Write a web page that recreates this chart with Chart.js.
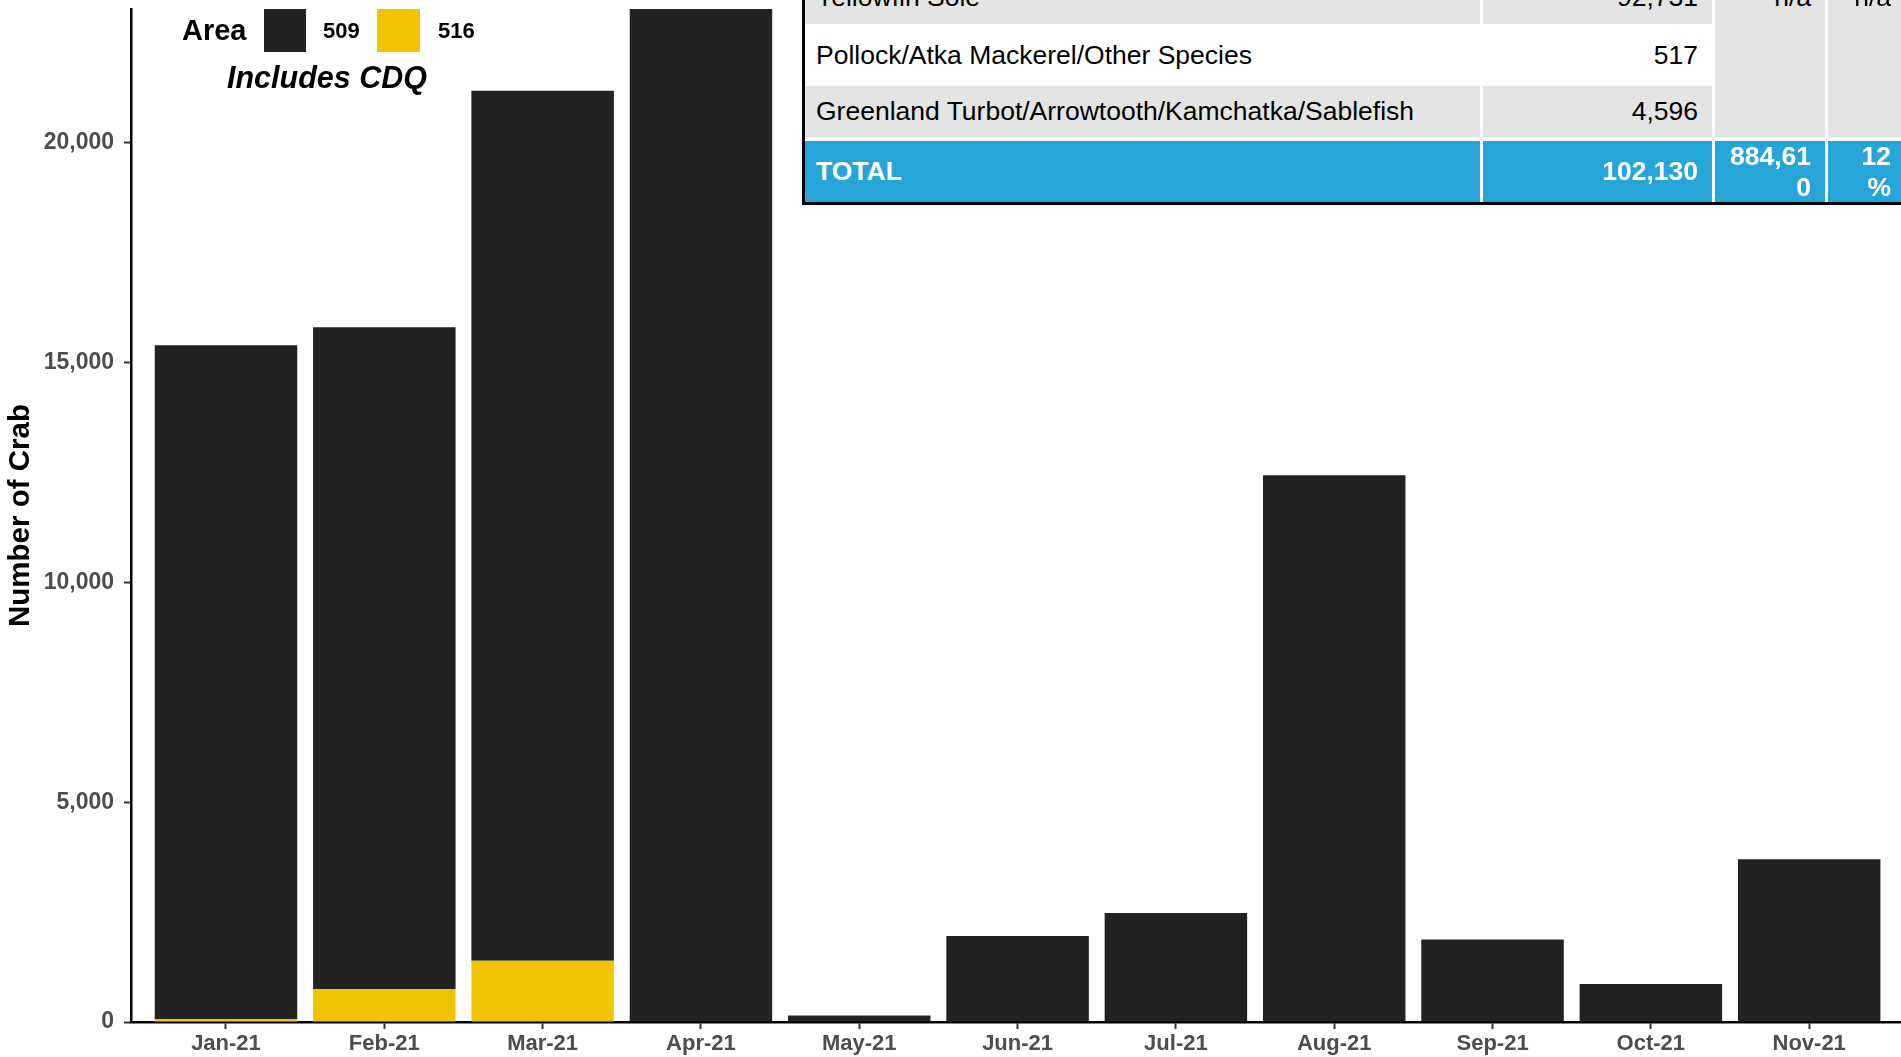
<!DOCTYPE html>
<html>
<head>
<meta charset="utf-8">
<script src="https://cdn.jsdelivr.net/npm/chart.js@4.4.1/dist/chart.umd.min.js"></script>
<style>
  html, body { margin: 0; padding: 0; background: #fff; overflow: hidden; }
  body { width: 1901px; height: 1057px; position: relative; font-family: "Liberation Sans", Arial, sans-serif; }
  #wrap { position: absolute; left: 0; top: 0; width: 1901px; height: 1057px; }
  .ov { position: absolute; display: flex; align-items: center; white-space: nowrap; }
  .cell { position: absolute; display: flex; align-items: center; box-sizing: border-box; font-size: 26.5px; color: #000; white-space: nowrap; }
  .cell.l { justify-content: flex-start; padding-left: 11px; }
  .cell.r { justify-content: flex-end; padding-right: 14px; text-align: right; }
  .gray { background: #e4e4e4; }
  .white { background: #fff; }
  .blue { background: #27a4d8; color: #fff; font-weight: bold; }
  .blue.r { line-height: 31px; }
</style>
</head>
<body>
<div id="wrap"><canvas id="chart"></canvas></div>

<!-- legend -->
<div id="legend"></div>

<!-- summary table (cropped at the top of the picture) -->
<div id="tbl">
  <div class="cell l gray" style="left:805px;top:-30px;width:675px;height:54px">Yellowfin Sole</div>
  <div class="cell r gray" style="left:1483px;top:-30px;width:229px;height:54px">92,731</div>
  <div class="cell gray" style="left:1715px;top:-30px;width:110px;height:167px"></div>
  <div class="cell gray" style="left:1828px;top:-30px;width:77px;height:167px"></div>
  <div class="cell r" style="left:1715px;top:-30px;width:110px;height:54px">n/a</div>
  <div class="cell r" style="left:1828px;top:-30px;width:77px;height:54px">n/a</div>

  <div class="cell l white" style="left:805px;top:26px;width:675px;height:58px">Pollock/Atka Mackerel/Other Species</div>
  <div class="cell r white" style="left:1483px;top:26px;width:229px;height:58px">517</div>

  <div class="cell l gray" style="left:805px;top:86px;width:675px;height:51px">Greenland Turbot/Arrowtooth/Kamchatka/Sablefish</div>
  <div class="cell r gray" style="left:1483px;top:86px;width:229px;height:51px">4,596</div>

  <div class="cell l blue" style="left:805px;top:141px;width:675px;height:61px">TOTAL</div>
  <div class="cell r blue" style="left:1483px;top:141px;width:229px;height:61px">102,130</div>
  <div class="cell r blue" style="left:1715px;top:141px;width:110px;height:61px">884,61<br>0</div>
  <div class="cell r blue" style="left:1828px;top:141px;width:77px;height:61px">12<br>%</div>

  <div style="position:absolute;left:802px;top:-30px;width:3px;height:235px;background:#000"></div>
  <div style="position:absolute;left:802px;top:202px;width:1110px;height:3px;background:#000"></div>
</div>

<script>
// monthly crab counts by area
const months = ["Jan-21", "Feb-21", "Mar-21", "Apr-21", "May-21", "Jun-21",
                "Jul-21", "Aug-21", "Sep-21", "Oct-21", "Nov-21"];
const area509 = [15330, 15055, 19785, 23040, 150, 1955, 2480, 12435, 1875, 865, 3700];
const area516 = [60, 745, 1395, 0, 0, 0, 0, 0, 0, 0, 0];
const yTicks = [0, 5000, 10000, 15000, 20000];

const areaNames = ["509", "516"];
const areaColors = ["#222222", "#f2c300"];

const FONT = "'Liberation Sans', Arial, sans-serif";
Chart.defaults.font.family = FONT;

// legend overlay
const legend = document.getElementById("legend");
legend.innerHTML =
  '<div class="ov" style="left:182px;top:9px;height:43px;font-weight:bold;font-size:29px;color:#000">Area</div>' +
  '<div style="position:absolute;left:264px;top:9px;width:42px;height:43px;background:' + areaColors[0] + '"></div>' +
  '<div class="ov" style="left:323px;top:9px;height:43px;font-weight:bold;font-size:22px;color:#000">' + areaNames[0] + '</div>' +
  '<div style="position:absolute;left:377px;top:9px;width:43px;height:43px;background:' + areaColors[1] + '"></div>' +
  '<div class="ov" style="left:438px;top:9px;height:43px;font-weight:bold;font-size:22px;color:#000">' + areaNames[1] + '</div>' +
  '<div class="ov" style="left:327px;top:57px;height:40px;transform:translateX(-50%);font-weight:bold;font-style:italic;font-size:30.5px;color:#000">Includes CDQ</div>';

const toXY = (arr) => arr.map((v, i) => ({ x: i + 1, y: v }));

new Chart(document.getElementById("chart").getContext("2d"), {
  type: "bar",
  data: {
    datasets: [
      {
        label: areaNames[1],
        data: toXY(area516),
        backgroundColor: areaColors[1],
        borderWidth: 0,
        categoryPercentage: 1,
        barPercentage: 0.9,
      },
      {
        label: areaNames[0],
        data: toXY(area509),
        backgroundColor: areaColors[0],
        borderWidth: 0,
        categoryPercentage: 1,
        barPercentage: 0.9,
      },
    ],
  },
  options: {
    responsive: true,
    maintainAspectRatio: false,
    animation: false,
    layout: { autoPadding: false, padding: { top: 9, left: 0, right: 0, bottom: 0 } },
    plugins: { legend: { display: false }, tooltip: { enabled: false } },
    scales: {
      x: {
        type: "linear",
        stacked: true,
        offset: false,
        min: 0.4,
        max: 11.58,
        z: 1,
        afterBuildTicks: (s) => { s.ticks = months.map((m, i) => ({ value: i + 1 })); },
        afterFit: (s) => { s.height = 35; s.paddingLeft = 0; s.paddingRight = 0; },
        grid: { offset: false, drawOnChartArea: false, drawTicks: true, tickLength: 7, tickColor: "#333", tickWidth: 2 },
        border: { display: true, color: "#000", width: 2.5 },
        ticks: {
          padding: 2,
          maxRotation: 0,
          autoSkip: false,
          color: "#4d4d4d",
          font: { family: FONT, size: 22, weight: "bold" },
          callback: (v) => months[Math.round(v) - 1],
        },
      },
      y: {
        stacked: true,
        min: 0,
        max: 23040,
        z: 1,
        afterBuildTicks: (s) => { s.ticks = yTicks.map((v) => ({ value: v })); },
        afterFit: (s) => { s.width = 131; s.paddingTop = 0; s.paddingBottom = 0; },
        grid: { drawOnChartArea: false, drawTicks: true, tickLength: 7, tickColor: "#333", tickWidth: 2 },
        border: { display: true, color: "#000", width: 2.5 },
        ticks: {
          padding: 10,
          color: "#4d4d4d",
          font: { family: FONT, size: 23, weight: "bold" },
          callback: (v) => v.toLocaleString("en-US"),
        },
        title: {
          display: true,
          text: "Number of Crab",
          color: "#000",
          padding: { top: 3.5 },
          font: { family: FONT, size: 29.5, weight: "bold" },
        },
      },
    },
  },
});
</script>
</body>
</html>
